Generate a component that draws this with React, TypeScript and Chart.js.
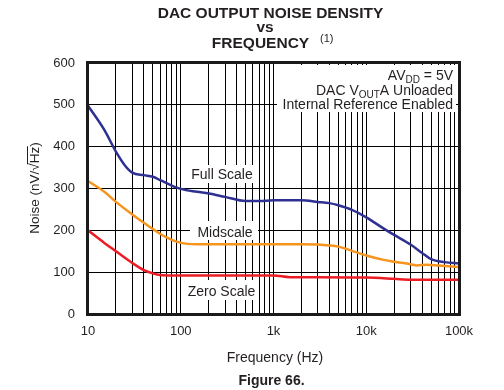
import React, { useEffect, useRef } from 'react';
import { Chart, registerables } from 'chart.js';

Chart.register(...registerables);

// ---- data ----
const fullScaleFreq = [10, 15, 20, 25, 30, 40, 50, 60, 80, 100, 150, 200, 300, 500, 700, 1000, 2000, 3000, 4000, 5000, 7000, 10000, 15000, 20000, 30000, 40000, 50000, 70000, 100000];
const fullScaleNoise = [498, 440, 388, 355, 338, 332, 328, 320, 307, 299, 292, 288, 280, 270, 270, 272, 272, 268, 265, 260, 249, 231, 206, 189, 166, 146, 131, 124, 121];

const midscaleFreq = [10, 15, 20, 30, 40, 50, 70, 100, 150, 300, 1000, 2000, 3000, 5000, 7000, 10000, 15000, 20000, 30000, 35000, 45000, 60000, 100000];
const midscaleNoise = [318, 292, 268, 238, 218, 203, 183, 170, 167, 167, 167, 167, 166, 161, 151, 140, 130, 125, 119, 116, 118, 116, 112];

const zeroScaleFreq = [10, 15, 20, 30, 40, 50, 60, 80, 100, 300, 1000, 1500, 3000, 10000, 20000, 30000, 50000, 100000];
const zeroScaleNoise = [200, 170, 150, 122, 105, 97, 93, 92, 92, 92, 92, 88, 88, 87, 84, 82, 82, 82];

const decadeValues = [10, 100, 1000, 10000, 100000];
const decadeLabels = ['10', '100', '1k', '10k', '100k'];
const gridMultiples = [1, 2, 3, 4, 5, 6, 7, 8, 9];

const yMin = 0;
const yMax = 600;
const yStep = 100;

const seriesLabels = ['Full Scale', 'Midscale', 'Zero Scale'];

const FONT = '"Liberation Sans", Arial, Helvetica, sans-serif';
const TEXT = '#231f20';

const toPoints = (f: number[], v: number[]) => f.map((x, i) => ({ x, y: v[i] }));

const decorPlugin = {
  id: 'decor',
  beforeDatasetsDraw(chart: any) {
    const ctx = chart.ctx;
    ctx.save();
    ctx.fillStyle = '#ffffff';
    ctx.fillRect(277, 65, 179, 47);
    ctx.fillRect(187, 165, 70, 18);
    ctx.fillRect(190, 221, 68, 19);
    ctx.fillRect(186, 280, 71, 20);
    ctx.restore();
  },
  afterDatasetsDraw(chart: any) {
    const ctx = chart.ctx;
    const a = chart.chartArea;
    ctx.save();
    ctx.strokeStyle = '#1a1a1a';
    ctx.lineWidth = 3;
    ctx.strokeRect(a.left - 0.5, a.top - 0.5, a.right - a.left + 1, a.bottom - a.top + 1);

    ctx.fillStyle = TEXT;
    ctx.textBaseline = 'alphabetic';

    ctx.font = `14px ${FONT}`;
    ctx.textAlign = 'center';
    ctx.fillText(seriesLabels[0], 222, 179);
    ctx.fillText(seriesLabels[1], 225, 236.5);
    ctx.fillText(seriesLabels[2], 221.5, 296);

    const right = 453;
    const big = `14px ${FONT}`;
    const small = `10px ${FONT}`;
    const drawParts = (parts: { t: string; sub?: boolean }[], baseline: number) => {
      let w = 0;
      const widths = parts.map((p) => {
        ctx.font = p.sub ? small : big;
        const mw = ctx.measureText(p.t).width;
        w += mw;
        return mw;
      });
      let x = right - w;
      ctx.textAlign = 'left';
      parts.forEach((p, i) => {
        ctx.font = p.sub ? small : big;
        ctx.fillText(p.t, x, baseline + (p.sub ? 3 : 0));
        x += widths[i];
      });
    };
    drawParts([{ t: 'AV' }, { t: 'DD', sub: true }, { t: ' = 5V' }], 80);
    drawParts([{ t: 'DAC V' }, { t: 'OUT', sub: true }, { t: 'A Unloaded' }], 94.5);
    drawParts([{ t: 'Internal Reference Enabled' }], 109);

    ctx.font = `bold 15.5px ${FONT}`;
    ctx.textAlign = 'center';
    ctx.fillText('DAC OUTPUT NOISE DENSITY', 270.5, 18);
    ctx.fillText('vs', 265, 32);
    ctx.fillText('FREQUENCY', 260.5, 48);
    ctx.font = `11px ${FONT}`;
    ctx.textAlign = 'left';
    ctx.fillText('(1)', 320, 42);

    ctx.font = `14px ${FONT}`;
    ctx.textAlign = 'center';
    ctx.fillText('Frequency (Hz)', 275, 362);

    ctx.font = `bold 14px ${FONT}`;
    ctx.fillText('Figure 66.', 271.5, 385);

    ctx.save();
    ctx.translate(38.5, 188);
    ctx.rotate(-Math.PI / 2);
    ctx.font = `13.5px ${FONT}`;
    ctx.textAlign = 'left';
    const pre = 'Noise (nV/';
    const rad = '\u221A';
    const hz = 'Hz';
    const post = ')';
    const wPre = ctx.measureText(pre).width;
    const wRad = ctx.measureText(rad).width;
    const wHz = ctx.measureText(hz).width;
    const wPost = ctx.measureText(post).width;
    const total = wPre + wRad + wHz + wPost;
    const x0 = -total / 2;
    ctx.fillText(pre + rad + hz + post, x0, 0);
    ctx.strokeStyle = TEXT;
    ctx.lineWidth = 1;
    ctx.beginPath();
    ctx.moveTo(x0 + wPre + wRad - 1, -11);
    ctx.lineTo(x0 + wPre + wRad + wHz + 0.5, -11);
    ctx.stroke();
    ctx.restore();

    ctx.restore();
  },
};

export default function App() {
  const canvasRef = useRef<HTMLCanvasElement | null>(null);

  useEffect(() => {
    const canvas = canvasRef.current;
    if (!canvas) return;
    const xTicks: number[] = [];
    decadeValues.forEach((d, di) => {
      if (di === decadeValues.length - 1) {
        xTicks.push(d);
      } else {
        gridMultiples.forEach((m) => xTicks.push(d * m));
      }
    });

    const lineDs = (label: string, f: number[], v: number[], color: string) => ({
      label,
      data: toPoints(f, v),
      borderColor: color,
      backgroundColor: color,
      borderWidth: 2.5,
      pointRadius: 0,
      fill: false,
      tension: 0.4,
      cubicInterpolationMode: 'monotone' as const,
    });

    const chart = new Chart(canvas, {
      type: 'line',
      data: {
        datasets: [
          lineDs(seriesLabels[0], fullScaleFreq, fullScaleNoise, '#2e3192'),
          lineDs(seriesLabels[1], midscaleFreq, midscaleNoise, '#f7941d'),
          lineDs(seriesLabels[2], zeroScaleFreq, zeroScaleNoise, '#ed1c24'),
        ],
      },
      options: {
        responsive: false,
        animation: false,
        devicePixelRatio: 1,
        layout: { padding: { left: 0, top: 63, right: 45, bottom: 0 } },
        plugins: {
          legend: { display: false },
          title: { display: false },
          tooltip: { enabled: false },
        },
        scales: {
          x: {
            type: 'logarithmic',
            min: 10,
            max: 100000,
            afterFit: (scale: any) => {
              scale.height = 76;
            },
            afterBuildTicks: (scale: any) => {
              scale.ticks = xTicks.map((v) => ({ value: v }));
            },
            grid: { color: '#000000', lineWidth: 1, drawTicks: false },
            border: { display: false },
            ticks: {
              autoSkip: false,
              maxRotation: 0,
              minRotation: 0,
              padding: 10,
              color: TEXT,
              font: { family: FONT, size: 13 },
              callback: (value: any) => {
                const i = decadeValues.indexOf(Number(value));
                return i >= 0 ? decadeLabels[i] : '';
              },
            },
          },
          y: {
            type: 'linear',
            min: yMin,
            max: yMax,
            afterFit: (scale: any) => {
              scale.width = 88;
            },
            grid: { color: '#000000', lineWidth: 1, drawTicks: false },
            border: { display: false },
            ticks: {
              stepSize: yStep,
              padding: 13,
              color: TEXT,
              font: { family: FONT, size: 13 },
            },
          },
        },
      },
      plugins: [decorPlugin],
    });
    return () => chart.destroy();
  }, []);

  return (
    <div style={{ position: 'fixed', left: 0, top: 0, width: 504, height: 390, background: '#ffffff' }}>
      <canvas ref={canvasRef} width={504} height={390} style={{ display: 'block', width: 504, height: 390 }} />
    </div>
  );
}
